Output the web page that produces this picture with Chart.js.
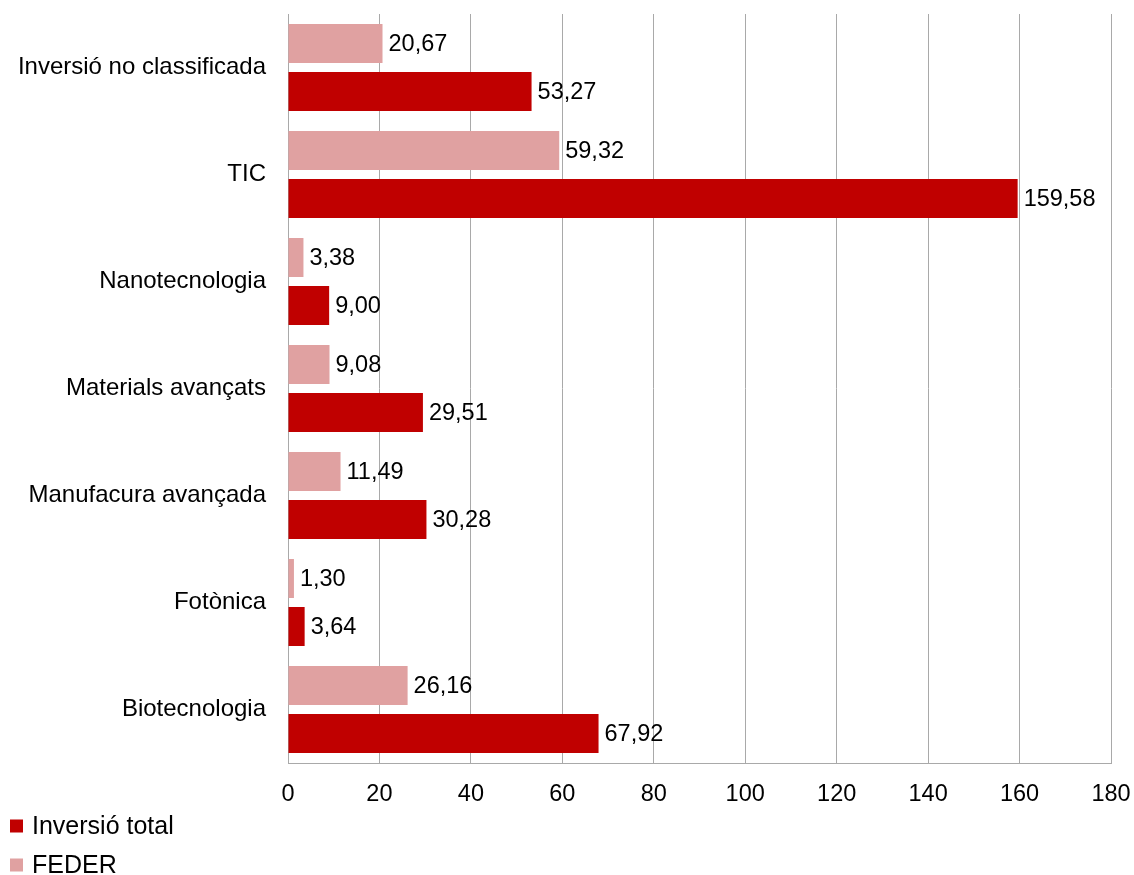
<!DOCTYPE html>
<html lang="ca">
<head>
    <meta charset="UTF-8">
    <title>Inversió per tecnologia</title>
    <script src="https://cdn.jsdelivr.net/npm/chart.js"></script>
    <style>
        html, body {
            margin: 0;
            padding: 0;
            background: #fff;
        }
        .chart-box {
            position: relative;
            width: 1134px;
            height: 875px;
        }
    </style>
</head>
<body>
    <div class="chart-box">
        <canvas id="investChart"></canvas>
    </div>

    <script>
        // Categories, top to bottom
        const categories = [
            'Inversió no classificada', 'TIC', 'Nanotecnologia', 'Materials avançats',
            'Manufacura avançada', 'Fotònica', 'Biotecnologia'
        ];
        const federValues = [20.67, 59.32, 3.38, 9.08, 11.49, 1.30, 26.16];
        const totalValues = [53.27, 159.58, 9.00, 29.51, 30.28, 3.64, 67.92];
        const xTicks = [0, 20, 40, 60, 80, 100, 120, 140, 160, 180];

        const FONT = '"Liberation Sans", Arial, sans-serif';
        const DARK_RED = '#C00000';
        const LIGHT_RED = '#E0A1A1';
        const GRID = '#A9A9A9';

        // Values written with a decimal comma next to each bar
        const valueLabels = {
            id: 'valueLabels',
            afterDatasetsDraw(chart) {
                const ctx = chart.ctx;
                ctx.save();
                ctx.font = '23.5px ' + FONT;
                ctx.fillStyle = '#000';
                ctx.textAlign = 'left';
                ctx.textBaseline = 'middle';
                chart.data.datasets.forEach((ds, i) => {
                    chart.getDatasetMeta(i).data.forEach((bar, j) => {
                        const txt = ds.data[j].toFixed(2).replace('.', ',');
                        ctx.fillText(txt, bar.x + 6, bar.y + 1);
                    });
                });
                ctx.restore();
            }
        };

        // Stacked legend in the lower-left corner, last dataset first
        const cornerLegend = {
            id: 'cornerLegend',
            afterDraw(chart) {
                const ctx = chart.ctx;
                const items = chart.data.datasets.slice().reverse();
                ctx.save();
                ctx.font = '25px ' + FONT;
                ctx.textAlign = 'left';
                ctx.textBaseline = 'middle';
                items.forEach((ds, k) => {
                    const cy = 826 + k * 39;
                    ctx.fillStyle = ds.backgroundColor;
                    ctx.fillRect(10, cy - 6.5, 13, 13);
                    ctx.fillStyle = '#000';
                    ctx.fillText(ds.label, 32, cy + 1);
                });
                ctx.restore();
            }
        };

        new Chart(document.getElementById('investChart'), {
            type: 'bar',
            data: {
                labels: categories,
                datasets: [{
                    label: 'FEDER',
                    data: federValues,
                    backgroundColor: LIGHT_RED,
                    categoryPercentage: 0.897,
                    barPercentage: 0.8125
                }, {
                    label: 'Inversió total',
                    data: totalValues,
                    backgroundColor: DARK_RED,
                    categoryPercentage: 0.897,
                    barPercentage: 0.8125
                }]
            },
            options: {
                indexAxis: 'y',
                responsive: true,
                maintainAspectRatio: false,
                animation: false,
                layout: {
                    padding: { top: 14, right: 23, bottom: 0, left: 0 }
                },
                plugins: {
                    legend: { display: false },
                    tooltip: { enabled: false }
                },
                scales: {
                    x: {
                        min: 0,
                        max: 180,
                        afterBuildTicks(scale) {
                            scale.ticks = xTicks.map(v => ({ value: v }));
                        },
                        afterFit(scale) {
                            scale.height = 112;
                            scale.paddingLeft = 0;
                            scale.paddingRight = 0;
                        },
                        grid: {
                            color: GRID,
                            lineWidth: 1,
                            drawTicks: false
                        },
                        border: { color: GRID, width: 1 },
                        ticks: {
                            color: '#000',
                            padding: 17,
                            font: { family: FONT, size: 23.5 }
                        }
                    },
                    y: {
                        afterFit(scale) {
                            scale.width = 288;
                            scale.paddingTop = 0;
                            scale.paddingBottom = 0;
                        },
                        grid: { display: false, drawTicks: false },
                        border: { color: GRID, width: 1 },
                        ticks: {
                            color: '#000',
                            padding: 22,
                            font: { family: FONT, size: 24 }
                        }
                    }
                }
            },
            plugins: [valueLabels, cornerLegend]
        });
    </script>
</body>
</html>
